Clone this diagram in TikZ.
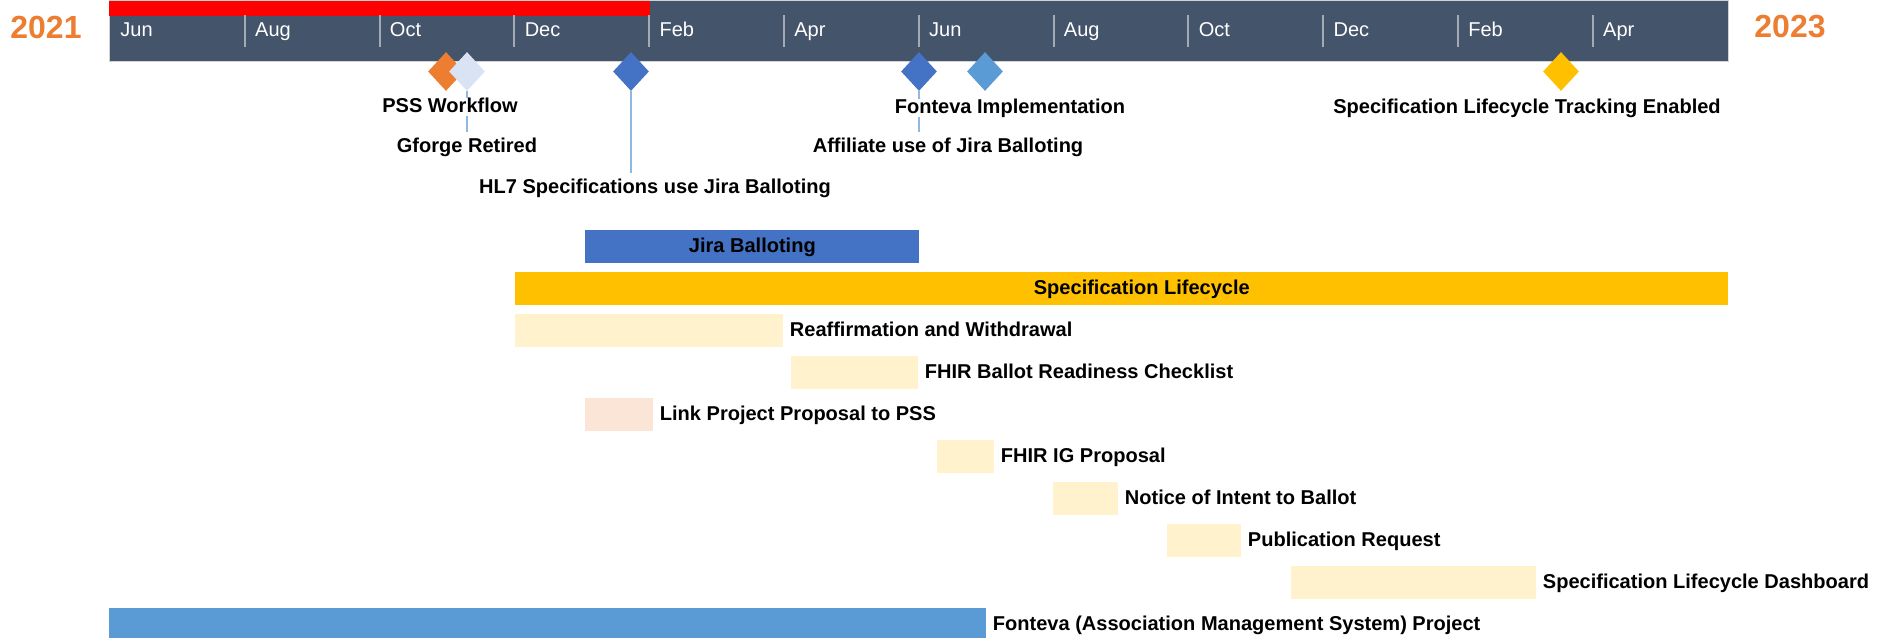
\documentclass[tikz,border=0pt]{standalone}
\usepackage{fontspec}
\setmainfont{Liberation Sans}
\usepackage{tikz}
\usetikzlibrary{shapes.geometric,positioning}
\definecolor{slate}{HTML}{44546A}
\definecolor{tickgray}{HTML}{A3AAB5}
\definecolor{yearorange}{HTML}{ED7D31}
\definecolor{jirablue}{HTML}{4472C4}
\definecolor{skyblue}{HTML}{5B9BD5}
\definecolor{gold}{HTML}{FFC000}
\definecolor{paleyellow}{HTML}{FFF2CC}
\definecolor{peach}{HTML}{FBE5D6}
\definecolor{mistblue}{HTML}{DAE3F3}
\definecolor{stemblue}{HTML}{8DB9E4}
\newcommand{\yr}[1]{\textcolor{yearorange}{#1}}

\begin{document}
\begin{tikzpicture}[x=0.02cm, y=-0.02cm,
    font=\fontsize{11.4}{13.7}\selectfont,
    taskbar/.style={rectangle, minimum height=0.66cm, inner sep=0, anchor=north west},
    tasklabel/.style={font=\fontsize{11.4}{13.7}\selectfont\bfseries, text height=1.5ex, text depth=.25ex, inner ysep=0.5pt},
    month/.style={text=white, inner sep=0, anchor=base west},
    milestone/.style={diamond, minimum width=0.72cm, minimum height=0.78cm, inner sep=0},
    stem/.style={stemblue, line width=0.9pt}]
    \useasboundingbox (0,0) rectangle (1879,638);

    % Header bar with months
    \node[rectangle, fill=slate, draw=gray!35, line width=0.6pt, inner sep=0, anchor=north west,
          minimum width={(1728-109)*0.02cm}, minimum height=1.22cm] (head) at (109,0) {};
    \node[rectangle, fill=red, inner sep=0, anchor=north west,
          minimum width={(650-109)*0.02cm}, minimum height=0.3cm] (today) at (109,1) {};
    \foreach \m in {2,4,...,22} {
        \draw[tickgray, line width=1.2pt] ({110+67.4*\m},15) -- ({110+67.4*\m},47);
    }
    \foreach \m/\mon in {0/Jun,2/Aug,4/Oct,6/Dec,8/Feb,10/Apr,12/Jun,14/Aug,16/Oct,18/Dec,20/Feb,22/Apr} {
        \node[month] (m\m) at ({120+67.4*\m},37) {\mon};
    }
    \node[font=\fontsize{18.2}{20}\selectfont\bfseries] (y2021) at (46,27) {\yr{2021}};
    \node[font=\fontsize{18.2}{20}\selectfont\bfseries] (y2023) at (1790,27) {\yr{2023}};

    % Milestones
    \foreach \n/\x/\col in {pss/446/yearorange, gforge/467/mistblue, hl7/631/jirablue,
                            affil/919/jirablue, fonimpl/985/skyblue, sltrack/1561/gold} {
        \node[milestone, fill=\col] (\n) at (\x,71.5) {};
    }
    \node[tasklabel] (lblgforge) at (467,147) {Gforge Retired};
    \node[tasklabel] (lblaffil) at (948,147) {Affiliate use of Jira Balloting};
    \node[tasklabel] (lblhl7) at (655,188) {HL7 Specifications use Jira Balloting};
    \foreach \n in {gforge,affil,hl7} {
        \draw[stem, shorten >=0.12cm] (\n) -- (\n.south |- lbl\n.north);
    }
    \node[tasklabel, fill=white] (lblpss) at (450,107) {PSS Workflow};
    \node[tasklabel, fill=white] (lblfonimpl) at (1010,108) {Fonteva Implementation};
    \node[tasklabel] (lblsltrack) at (1527,108) {Specification Lifecycle Tracking Enabled};

    % Task bars
    \node[taskbar, tasklabel, fill=jirablue, minimum width={(919-585)*0.02cm}] (t0) at (585,230) {Jira Balloting};
    \node[taskbar, fill=gold, minimum width={(1728-515)*0.02cm}] (t1) at (515,272) {};
    \node[tasklabel] (speclbl) at ([xshift=0.4cm]t1.center) {Specification Lifecycle};
    \foreach \i/\xa/\xb/\col/\txt in {2/515/783/paleyellow/{Reaffirmation and Withdrawal},
                                      3/791/918/paleyellow/{FHIR Ballot Readiness Checklist},
                                      4/585/653/peach/{Link Project Proposal to PSS},
                                      5/937/994/paleyellow/{FHIR IG Proposal},
                                      6/1053/1118/paleyellow/{Notice of Intent to Ballot},
                                      7/1167/1241/paleyellow/{Publication Request},
                                      8/1291/1536/paleyellow/{Specification Lifecycle Dashboard},
                                      9/109/986/skyblue/{Fonteva (Association Management System) Project}} {
        \node[taskbar, fill=\col, minimum width={(\xb-\xa)*0.02cm}] (t\i) at (\xa,{230+42*\i}) {};
        \node[tasklabel, right=0pt of t\i] (l\i) {\txt};
    }
\end{tikzpicture}
\end{document}
